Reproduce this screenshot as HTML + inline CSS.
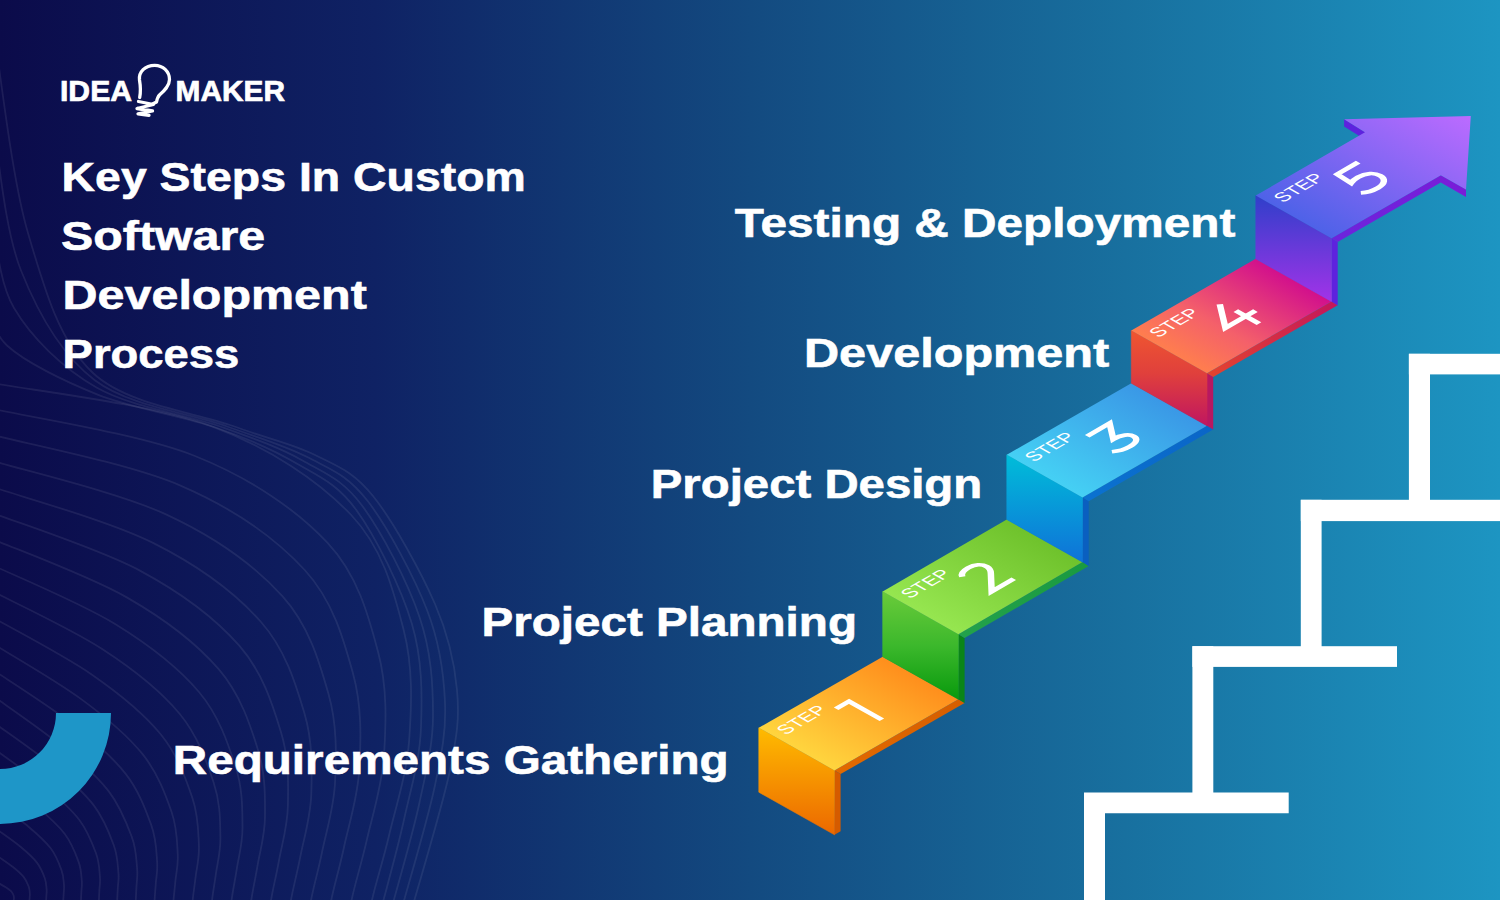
<!DOCTYPE html>
<html><head><meta charset="utf-8"><style>
html,body{margin:0;padding:0;width:1500px;height:900px;overflow:hidden;background:#0d1150;}
svg{display:block}
</style></head><body>
<svg width="1500" height="900" viewBox="0 0 1500 900">
<defs>
<linearGradient id="bg" x1="0" y1="0" x2="1" y2="0">
<stop offset="0" stop-color="#0b0b4a"/>
<stop offset="0.25" stop-color="#0f2264"/>
<stop offset="0.5" stop-color="#134a80"/>
<stop offset="0.75" stop-color="#18709f"/>
<stop offset="1" stop-color="#1d95c2"/>
</linearGradient>
<linearGradient id="rg0" gradientUnits="userSpaceOnUse" x1="0" y1="727.8" x2="0" y2="834.8"><stop offset="0.0" stop-color="#FFBB00"/><stop offset="1.0" stop-color="#EC6800"/></linearGradient>
<linearGradient id="tg0" gradientUnits="userSpaceOnUse" x1="758.8" y1="727.8" x2="819.3" y2="620.3"><stop offset="0.0" stop-color="#FFD53E"/><stop offset="1.0" stop-color="#FF8E1C"/></linearGradient>
<linearGradient id="sg0" gradientUnits="userSpaceOnUse" x1="834.5" y1="0" x2="958.4" y2="0"><stop offset="0.0" stop-color="#E26A00"/><stop offset="1.0" stop-color="#D65E00"/></linearGradient>
<linearGradient id="rg1" gradientUnits="userSpaceOnUse" x1="0" y1="591.6" x2="0" y2="699.3"><stop offset="0.0" stop-color="#6ACB3A"/><stop offset="0.5" stop-color="#3CB82C"/><stop offset="1.0" stop-color="#099A0D"/></linearGradient>
<linearGradient id="tg1" gradientUnits="userSpaceOnUse" x1="882.7" y1="591.6" x2="943.2" y2="484.1"><stop offset="0.0" stop-color="#96E650"/><stop offset="1.0" stop-color="#6FC22C"/></linearGradient>
<linearGradient id="sg1" gradientUnits="userSpaceOnUse" x1="958.4" y1="0" x2="1082.5" y2="0"><stop offset="0.0" stop-color="#23A24C"/><stop offset="1.0" stop-color="#1A9A40"/></linearGradient>
<linearGradient id="rg2" gradientUnits="userSpaceOnUse" x1="0" y1="454.8" x2="0" y2="562.1"><stop offset="0.0" stop-color="#00BDD9"/><stop offset="1.0" stop-color="#0F72D8"/></linearGradient>
<linearGradient id="tg2" gradientUnits="userSpaceOnUse" x1="1006.8" y1="454.8" x2="1067.3" y2="347.3"><stop offset="0.0" stop-color="#45D0F4"/><stop offset="1.0" stop-color="#3A98E6"/></linearGradient>
<linearGradient id="sg2" gradientUnits="userSpaceOnUse" x1="1082.5" y1="0" x2="1207.0" y2="0"><stop offset="0.0" stop-color="#0B72D0"/><stop offset="1.0" stop-color="#0A66C8"/></linearGradient>
<linearGradient id="rg3" gradientUnits="userSpaceOnUse" x1="0" y1="330.6" x2="0" y2="425.8"><stop offset="0.0" stop-color="#EF5630"/><stop offset="0.45" stop-color="#E0403C"/><stop offset="1.0" stop-color="#C01660"/></linearGradient>
<linearGradient id="tg3" gradientUnits="userSpaceOnUse" x1="1131.3" y1="330.6" x2="1191.8" y2="223.1"><stop offset="0.0" stop-color="#FF7E4E"/><stop offset="0.38" stop-color="#F4606A"/><stop offset="1.0" stop-color="#D2108C"/></linearGradient>
<linearGradient id="sg3" gradientUnits="userSpaceOnUse" x1="1207.0" y1="0" x2="1331.5" y2="0"><stop offset="0.0" stop-color="#E4442E"/><stop offset="1.0" stop-color="#C4185A"/></linearGradient>
<linearGradient id="rg4" gradientUnits="userSpaceOnUse" x1="0" y1="195.6" x2="0" y2="301.4"><stop offset="0.0" stop-color="#2F3FCA"/><stop offset="1.0" stop-color="#A233E8"/></linearGradient>
<linearGradient id="tg4" gradientUnits="userSpaceOnUse" x1="1255.8" y1="195.6" x2="1341.6" y2="43.1"><stop offset="0.0" stop-color="#4E62E8"/><stop offset="1.0" stop-color="#BC6BFF"/></linearGradient>
<linearGradient id="sg4" gradientUnits="userSpaceOnUse" x1="1331.5" y1="0" x2="1466.0" y2="0"><stop offset="0.0" stop-color="#6C24DC"/><stop offset="1.0" stop-color="#7A1CD8"/></linearGradient>
</defs>
<rect width="1500" height="900" fill="url(#bg)"/>
<g fill="none" stroke="#ffffff" stroke-opacity="0.075" stroke-width="1.8"><path d="M-11.2,382.4 C25.7,389.6 149.4,403.6 209.8,425.7 C270.2,447.8 318.9,481.0 351.2,515.0 C383.5,549.0 393.9,592.2 403.6,629.7 C413.3,667.2 411.6,705.6 409.2,739.9 C406.8,774.1 395.3,808.5 389.1,835.2 C382.9,861.9 375.8,882.4 372.0,900.0 C368.2,917.6 367.4,934.0 366.4,940.8"/>
<path d="M-11.1,408.1 C23.2,416.1 138.5,433.5 194.9,456.0 C251.4,478.5 297.1,510.3 327.6,542.9 C358.2,575.6 368.7,616.8 378.1,652.0 C387.5,687.3 386.0,722.8 384.1,754.3 C382.2,785.8 372.0,816.6 366.6,840.9 C361.1,865.1 354.9,883.7 351.6,900.0 C348.3,916.3 347.4,932.3 346.6,938.7"/>
<path d="M-11.1,434.0 C20.9,442.6 127.9,463.0 180.5,485.6 C233.1,508.3 275.9,538.7 304.7,570.0 C333.5,601.3 343.9,640.5 353.0,673.5 C362.1,706.5 360.9,739.3 359.4,768.1 C357.9,796.9 348.9,824.2 344.2,846.2 C339.6,868.2 334.2,884.9 331.3,900.0 C328.4,915.1 327.6,930.5 326.9,936.6"/>
<path d="M-10.9,459.9 C18.7,469.0 117.6,491.9 166.5,514.6 C215.4,537.3 255.4,566.3 282.4,596.2 C309.4,626.1 319.7,663.1 328.5,694.0 C337.3,724.8 336.2,754.9 335.1,781.2 C334.1,807.4 326.2,831.5 322.2,851.4 C318.2,871.2 313.6,886.1 311.1,900.0 C308.6,913.9 307.9,928.8 307.2,934.6"/>
<path d="M-10.7,485.9 C16.6,495.4 107.7,520.3 153.0,542.9 C198.2,565.5 235.4,593.1 260.6,621.5 C285.9,649.9 296.0,684.9 304.5,713.5 C312.9,742.2 312.0,769.8 311.3,793.6 C310.6,817.4 303.8,838.5 300.4,856.2 C297.0,874.0 293.2,887.3 291.0,900.0 C288.9,912.7 288.2,927.1 287.6,932.5"/>
<path d="M-10.4,511.9 C14.6,521.7 98.2,548.3 139.9,570.6 C181.5,592.9 216.0,619.0 239.5,645.9 C263.0,672.8 272.9,705.6 281.0,732.2 C289.1,758.8 288.3,783.9 287.9,805.3 C287.6,826.8 281.7,845.1 278.9,860.9 C276.1,876.6 272.9,888.4 271.1,900.0 C269.3,911.6 268.7,925.3 268.2,930.4"/>
<path d="M-10.1,538.0 C12.8,547.9 89.1,575.7 127.2,597.6 C165.4,619.5 197.1,644.0 218.9,669.4 C240.7,694.8 250.4,725.4 258.0,749.9 C265.7,774.4 265.0,797.2 265.0,816.4 C264.9,835.6 259.9,851.3 257.6,865.2 C255.3,879.2 252.8,889.5 251.3,900.0 C249.8,910.5 249.2,923.6 248.8,928.3"/>
<path d="M-9.7,564.2 C11.1,574.1 80.3,602.7 115.1,624.0 C149.8,645.3 178.9,668.2 199.0,692.0 C219.1,715.8 228.3,744.3 235.6,766.8 C242.8,789.2 242.3,809.7 242.5,826.8 C242.7,843.9 238.5,857.2 236.7,869.4 C234.8,881.6 232.8,890.5 231.6,900.0 C230.4,909.5 229.8,921.9 229.5,926.2"/>
<path d="M-9.2,590.4 C9.5,600.3 71.9,629.1 103.3,649.7 C134.8,670.2 161.2,691.5 179.6,713.7 C198.0,735.9 206.9,762.2 213.7,782.7 C220.5,803.1 220.1,821.4 220.4,836.5 C220.8,851.6 217.4,862.7 216.0,873.2 C214.6,883.8 213.0,891.5 212.1,900.0 C211.1,908.5 210.6,920.1 210.3,924.2"/>
<path d="M-8.7,616.7 C8.1,626.4 63.8,655.1 92.0,674.7 C120.3,694.3 144.2,714.0 160.9,734.5 C177.6,755.0 186.0,779.1 192.3,797.6 C198.6,816.2 198.3,832.3 198.9,845.5 C199.4,858.8 196.6,867.8 195.6,876.9 C194.6,885.9 193.4,892.5 192.7,900.0 C192.0,907.5 191.5,918.4 191.3,922.1"/>
<path d="M-8.1,643.1 C6.8,652.4 56.1,680.5 81.2,699.1 C106.4,717.6 127.7,735.6 142.8,754.4 C157.8,773.2 165.7,795.1 171.5,811.7 C177.3,828.3 177.1,842.5 177.7,853.9 C178.4,865.3 176.2,872.6 175.5,880.2 C174.8,887.9 174.1,893.4 173.5,900.0 C173.0,906.6 172.6,916.7 172.4,920.0"/>
<path d="M-7.5,669.5 C5.6,678.4 48.7,705.5 70.8,722.8 C93.0,740.1 111.9,756.4 125.3,773.4 C138.7,790.4 145.9,810.2 151.2,824.9 C156.5,839.6 156.4,851.9 157.1,861.6 C157.9,871.4 156.2,877.0 155.8,883.4 C155.4,889.8 154.9,894.2 154.6,900.0 C154.2,905.8 153.8,914.9 153.7,917.9"/>
<path d="M-6.8,696.1 C4.5,704.3 41.9,729.7 61.1,745.6 C80.3,761.4 96.9,775.9 108.6,791.1 C120.4,806.3 126.9,823.8 131.7,836.6 C136.5,849.5 136.3,860.1 137.1,868.3 C137.9,876.6 136.7,880.9 136.5,886.1 C136.2,891.4 136.0,895.0 135.8,900.0 C135.5,905.0 135.2,913.2 135.1,915.8"/>
<path d="M-5.9,722.8 C3.9,730.0 36.1,752.1 52.8,765.8 C69.4,779.6 83.6,792.2 93.8,805.4 C103.9,818.6 109.6,833.8 113.7,845.0 C117.8,856.1 117.7,865.3 118.4,872.5 C119.1,879.6 118.0,883.4 117.8,888.0 C117.6,892.5 117.4,895.7 117.2,900.0 C117.0,904.3 116.7,911.5 116.6,913.8"/>
<path d="M-4.9,749.6 C3.3,755.7 30.5,774.4 44.5,786.1 C58.5,797.8 70.6,808.5 79.2,819.7 C87.7,830.9 92.5,843.8 96.0,853.3 C99.4,862.8 99.4,870.6 99.9,876.6 C100.5,882.7 99.6,885.9 99.4,889.8 C99.3,893.7 99.1,896.4 98.9,900.0 C98.8,903.6 98.5,909.7 98.4,911.7"/>
<path d="M-4.0,776.4 C2.7,781.4 25.0,796.8 36.4,806.4 C47.9,816.0 57.8,824.8 64.8,834.0 C71.8,843.2 75.7,853.8 78.5,861.6 C81.4,869.4 81.3,875.8 81.8,880.8 C82.2,885.8 81.5,888.4 81.4,891.6 C81.2,894.8 81.1,897.0 81.0,900.0 C80.8,903.0 80.6,908.0 80.6,909.6"/>
<path d="M-3.2,803.2 C2.1,807.1 19.5,819.2 28.5,826.7 C37.5,834.2 45.2,841.1 50.7,848.3 C56.2,855.5 59.2,863.8 61.4,869.9 C63.7,876.0 63.6,881.0 64.0,885.0 C64.3,888.9 63.8,890.9 63.7,893.4 C63.6,895.9 63.4,897.6 63.3,900.0 C63.2,902.4 63.1,906.3 63.0,907.5"/>
<path d="M-2.3,830.0 C1.5,832.8 14.2,841.5 20.8,847.0 C27.3,852.4 32.9,857.4 36.9,862.6 C40.9,867.8 43.2,873.8 44.8,878.2 C46.4,882.7 46.3,886.3 46.6,889.1 C46.9,892.0 46.5,893.4 46.4,895.2 C46.3,897.1 46.2,898.3 46.2,900.0 C46.1,901.7 46.0,904.5 45.9,905.4"/>
<path d="M-1.5,856.7 C1.0,858.5 9.1,863.9 13.3,867.2 C17.5,870.6 21.1,873.7 23.6,876.9 C26.2,880.1 27.6,883.8 28.7,886.6 C29.7,889.3 29.7,891.5 29.8,893.3 C30.0,895.0 29.7,895.9 29.7,897.1 C29.6,898.2 29.6,899.0 29.5,900.0 C29.5,901.0 29.4,902.8 29.4,903.4"/>
<path d="M-0.7,883.5 C0.5,884.2 4.3,886.2 6.2,887.5 C8.2,888.8 9.8,890.0 11.0,891.2 C12.2,892.4 12.9,893.8 13.4,894.9 C13.9,895.9 13.8,896.8 13.9,897.4 C14.0,898.1 13.9,898.5 13.9,898.9 C13.8,899.3 13.8,899.6 13.8,900.0 C13.8,900.4 13.7,901.1 13.7,901.3"/>
<path d="M-9.5,296.5 C-6.8,304.7 -11.0,329.1 7.0,345.5 C25.0,361.9 63.5,381.1 98.2,394.8 C133.0,408.4 182.8,416.1 215.8,427.5 C248.8,438.9 272.8,449.5 296.2,463.2 C319.7,477.0 337.2,483.5 356.5,510.2 C375.8,537.0 401.0,587.3 411.8,623.5 C422.5,659.7 422.2,695.0 421.0,727.5 C419.8,760.0 410.7,789.2 404.2,818.8 C397.8,848.3 385.9,890.6 382.2,905.0"/>
<path d="M-8.0,211.0 C-4.3,227.2 -3.4,278.6 14.0,308.0 C31.4,337.4 61.9,367.7 96.5,387.5 C131.1,407.3 187.2,414.8 221.5,427.0 C255.8,439.2 279.1,447.4 302.5,460.5 C325.9,473.6 342.5,479.4 362.0,505.5 C381.5,531.6 407.7,582.1 419.5,617.0 C431.3,651.9 433.0,684.1 433.0,715.0 C433.0,745.9 426.2,770.8 419.5,802.5 C412.8,834.2 397.0,887.9 392.5,905.0"/>
<path d="M-6.5,125.5 C-1.9,149.7 4.1,228.0 21.0,270.5 C37.9,313.0 60.4,354.2 94.8,380.2 C129.1,406.2 191.6,413.6 227.2,426.5 C262.9,439.4 285.4,445.4 308.8,457.8 C332.1,470.1 347.8,475.3 367.5,500.8 C387.2,526.2 414.3,576.9 427.2,610.5 C440.2,644.1 443.8,673.2 445.0,702.5 C446.2,731.8 441.8,752.5 434.8,786.2 C427.7,820.0 408.1,885.2 402.8,905.0"/>
<path d="M-5.0,40.0 C0.5,72.2 11.7,177.5 28.0,233.0 C44.3,288.5 58.8,340.8 93.0,373.0 C127.2,405.2 196.0,412.3 233.0,426.0 C270.0,439.7 291.7,443.3 315.0,455.0 C338.3,466.7 353.0,471.2 373.0,496.0 C393.0,520.8 421.0,571.7 435.0,604.0 C449.0,636.3 454.5,662.3 457.0,690.0 C459.5,717.7 457.3,734.2 450.0,770.0 C442.7,805.8 419.2,882.5 413.0,905.0"/></g>
<path d="M0,713 L111,713 A111,111 0 0 1 0,824 L0,769 A56,56 0 0 0 56,713 Z" fill="#1e96c8"/>
<g fill="#fff">
<path d="M1084,900 L1084,792.4 L1288.7,792.4 L1288.7,813.2 L1192.4,813.2 L1192.4,813.2 L1105,813.2 L1105,900 Z"/>
<rect x="1192.4" y="646.2" width="20.9" height="150"/>
<rect x="1192.4" y="646.2" width="204.6" height="20.7"/>
<rect x="1300.8" y="499.8" width="20.8" height="150"/>
<rect x="1300.8" y="499.8" width="200" height="21.3"/>
<rect x="1408.9" y="353.8" width="21.1" height="150"/>
<rect x="1408.9" y="353.8" width="100" height="20.6"/>
</g>
<polygon points="834.5,834.8 834.5,770.4 840.6,774.1 840.6,831.2" fill="#D55B00"/>
<polygon points="834.5,770.4 958.4,699.3 964.6,703.1 840.6,774.1" fill="url(#sg0)"/>
<polygon points="758.8,727.8 834.5,770.4 834.5,834.8 758.8,792.2" fill="url(#rg0)" stroke="url(#rg0)" stroke-width="0.6" stroke-linejoin="round"/>
<polygon points="758.8,727.8 834.5,770.4 958.4,699.3 882.7,656.7" fill="url(#tg0)"/>
<polygon points="958.4,699.3 958.4,634.2 964.6,638.0 964.6,703.1" fill="#0A8518"/>
<polygon points="958.4,634.2 1082.5,562.1 1088.7,565.9 964.6,638.0" fill="url(#sg1)"/>
<polygon points="882.7,591.6 958.4,634.2 958.4,699.3 882.7,656.7" fill="url(#rg1)" stroke="url(#rg1)" stroke-width="0.6" stroke-linejoin="round"/>
<polygon points="882.7,591.6 958.4,634.2 1082.5,562.1 1006.8,519.5" fill="url(#tg1)"/>
<polygon points="1082.5,562.1 1082.5,497.4 1088.7,501.2 1088.7,565.9" fill="#0A5FC0"/>
<polygon points="1082.5,497.4 1207.0,425.8 1213.2,429.6 1088.7,501.2" fill="url(#sg2)"/>
<polygon points="1006.8,454.8 1082.5,497.4 1082.5,562.1 1006.8,519.5" fill="url(#rg2)" stroke="url(#rg2)" stroke-width="0.6" stroke-linejoin="round"/>
<polygon points="1006.8,454.8 1082.5,497.4 1207.0,425.8 1131.3,383.2" fill="url(#tg2)"/>
<polygon points="1207.0,425.8 1207.0,373.2 1213.2,377.0 1213.2,429.6" fill="#B81860"/>
<polygon points="1207.0,373.2 1331.5,301.4 1337.7,305.2 1213.2,377.0" fill="url(#sg3)"/>
<polygon points="1131.3,330.6 1207.0,373.2 1207.0,425.8 1131.3,383.2" fill="url(#rg3)" stroke="url(#rg3)" stroke-width="0.6" stroke-linejoin="round"/>
<polygon points="1131.3,330.6 1207.0,373.2 1331.5,301.4 1255.8,258.8" fill="url(#tg3)"/>
<polygon points="1344.1,119.2 1365.0,132.3 1365.0,139.6 1344.1,126.5" fill="#5E22DE"/>
<polygon points="1331.5,301.4 1331.5,238.2 1337.7,241.9 1337.7,305.2" fill="#5E22DE"/>
<polygon points="1331.5,238.2 1440.8,175.3 1466.0,189.6 1466.0,196.9 1440.8,182.6 1337.7,241.9" fill="url(#sg4)"/>
<polygon points="1255.8,195.6 1331.5,238.2 1331.5,301.4 1255.8,258.8" fill="url(#rg4)" stroke="url(#rg4)" stroke-width="0.6" stroke-linejoin="round"/>
<polygon points="1255.8,195.6 1331.5,238.2 1440.8,175.3 1466.0,189.6 1470.8,116.1 1344.1,119.2 1365.0,132.3" fill="url(#tg4)"/>
<g transform="matrix(0.8661,-0.5,0.8715,0.4904,758.8,727.8)"><text x="7.8" y="23.2" font-family="&quot;Liberation Sans&quot;, sans-serif" font-size="18.2" fill="#fff" textLength="49.5" lengthAdjust="spacingAndGlyphs">STEP</text><path transform="translate(63.3,25.8)" d="M0,0 H15 V37.6" fill="none" stroke="#fff" stroke-width="5.3" stroke-linejoin="miter" stroke-linecap="butt"/></g>
<g transform="matrix(0.8661,-0.5,0.8715,0.4904,882.7,591.6)"><text x="7.8" y="23.2" font-family="&quot;Liberation Sans&quot;, sans-serif" font-size="18.2" fill="#fff" textLength="49.5" lengthAdjust="spacingAndGlyphs">STEP</text><path transform="translate(60.4,25.8)" d="M0,5.5 C2,1.8 6.5,0 12.5,0 C19.5,0 24.2,3.8 24.2,9.6 C24.2,13 22.8,15.6 19.6,18.8 L1.8,37.4 H27.3" fill="none" stroke="#fff" stroke-width="5.3" stroke-linejoin="miter" stroke-linecap="butt"/></g>
<g transform="matrix(0.8661,-0.5,0.8715,0.4904,1006.8,454.8)"><text x="7.8" y="23.2" font-family="&quot;Liberation Sans&quot;, sans-serif" font-size="18.2" fill="#fff" textLength="49.5" lengthAdjust="spacingAndGlyphs">STEP</text><path transform="translate(62.5,25.8)" d="M2.2,2.2 H28 L14,20.4 C23,20.2 28.6,24.6 28.6,29.4 C28.6,34.4 23.5,37.4 16,37.4 C10,37.4 4.8,35.6 0.5,32.2" fill="none" stroke="#fff" stroke-width="5.3" stroke-linejoin="miter" stroke-linecap="butt"/></g>
<g transform="matrix(0.8661,-0.5,0.8715,0.4904,1131.3,330.6)"><text x="7.8" y="23.2" font-family="&quot;Liberation Sans&quot;, sans-serif" font-size="18.2" fill="#fff" textLength="49.5" lengthAdjust="spacingAndGlyphs">STEP</text><path transform="translate(53.0,25.8)" d="M24.2,-1 L3.4,26.2 H38 M26.8,14.8 V41.4" fill="none" stroke="#fff" stroke-width="5.3" stroke-linejoin="miter" stroke-linecap="butt"/></g>
<g transform="matrix(0.8661,-0.5,0.8715,0.4904,1255.8,195.6)"><text x="7.8" y="23.2" font-family="&quot;Liberation Sans&quot;, sans-serif" font-size="18.2" fill="#fff" textLength="49.5" lengthAdjust="spacingAndGlyphs">STEP</text><path transform="translate(62.5,25.8)" d="M29.8,0 H5.6 L4.6,16.8 C7.5,15.6 11,15.1 14.5,15.1 C23.2,15.1 28.6,19.8 28.6,26.3 C28.6,32.8 23.2,37.4 15,37.4 C8.8,37.4 3.8,35.6 0.2,32.4" fill="none" stroke="#fff" stroke-width="5.3" stroke-linejoin="miter" stroke-linecap="butt"/></g>
<text x="61.6" y="190.8" font-family="&quot;Liberation Sans&quot;, sans-serif" font-weight="bold" font-size="40.5" fill="#fff" stroke="#fff" stroke-width="0.6" textLength="464.2" lengthAdjust="spacingAndGlyphs">Key Steps In Custom</text>
<text x="61.0" y="250.0" font-family="&quot;Liberation Sans&quot;, sans-serif" font-weight="bold" font-size="40.5" fill="#fff" stroke="#fff" stroke-width="0.6" textLength="204.2" lengthAdjust="spacingAndGlyphs">Software</text>
<text x="62.6" y="309.2" font-family="&quot;Liberation Sans&quot;, sans-serif" font-weight="bold" font-size="40.5" fill="#fff" stroke="#fff" stroke-width="0.6" textLength="304.2" lengthAdjust="spacingAndGlyphs">Development</text>
<text x="62.6" y="367.7" font-family="&quot;Liberation Sans&quot;, sans-serif" font-weight="bold" font-size="40.5" fill="#fff" stroke="#fff" stroke-width="0.6" textLength="176.8" lengthAdjust="spacingAndGlyphs">Process</text>
<text x="734.8" y="236.6" font-family="&quot;Liberation Sans&quot;, sans-serif" font-weight="bold" font-size="40.5" fill="#fff" stroke="#fff" stroke-width="0.6" textLength="500.6" lengthAdjust="spacingAndGlyphs">Testing &amp; Deployment</text>
<text x="804.0" y="367.3" font-family="&quot;Liberation Sans&quot;, sans-serif" font-weight="bold" font-size="40.5" fill="#fff" stroke="#fff" stroke-width="0.6" textLength="305.2" lengthAdjust="spacingAndGlyphs">Development</text>
<text x="650.8" y="497.5" font-family="&quot;Liberation Sans&quot;, sans-serif" font-weight="bold" font-size="40.5" fill="#fff" stroke="#fff" stroke-width="0.6" textLength="331.4" lengthAdjust="spacingAndGlyphs">Project Design</text>
<text x="481.4" y="635.9" font-family="&quot;Liberation Sans&quot;, sans-serif" font-weight="bold" font-size="40.5" fill="#fff" stroke="#fff" stroke-width="0.6" textLength="375.6" lengthAdjust="spacingAndGlyphs">Project Planning</text>
<text x="172.8" y="773.9" font-family="&quot;Liberation Sans&quot;, sans-serif" font-weight="bold" font-size="40.5" fill="#fff" stroke="#fff" stroke-width="0.6" textLength="555.8" lengthAdjust="spacingAndGlyphs">Requirements Gathering</text>
<g fill="#fff">
<text x="60.0" y="100.6" font-family="&quot;Liberation Sans&quot;, sans-serif" font-weight="bold" font-size="29" stroke="#fff" stroke-width="0.7" textLength="72" lengthAdjust="spacingAndGlyphs">IDEA</text>
<path d="M139.7,97.5 C140.8,92 140.5,86 139.5,80 C138.5,72 145,65.3 154.7,65.3 C163,65.3 169.5,71.5 169.5,79.5 C169.5,86 164,91 159.5,95 C157.5,97 157,99.5 156.5,102 L152.5,104" fill="none" stroke="#fff" stroke-width="3.3" stroke-linecap="round" stroke-linejoin="round"/>
<path d="M138.5,101.5 L153.5,104.5 L137,108.5 L152.5,111 L138,113.8 L149,115.3" fill="none" stroke="#fff" stroke-width="3.3" stroke-linecap="round" stroke-linejoin="round"/>
<text x="175.6" y="100.6" font-family="&quot;Liberation Sans&quot;, sans-serif" font-weight="bold" font-size="29" stroke="#fff" stroke-width="0.7" textLength="109.4" lengthAdjust="spacingAndGlyphs">MAKER</text>
</g>
</svg>
</body></html>
